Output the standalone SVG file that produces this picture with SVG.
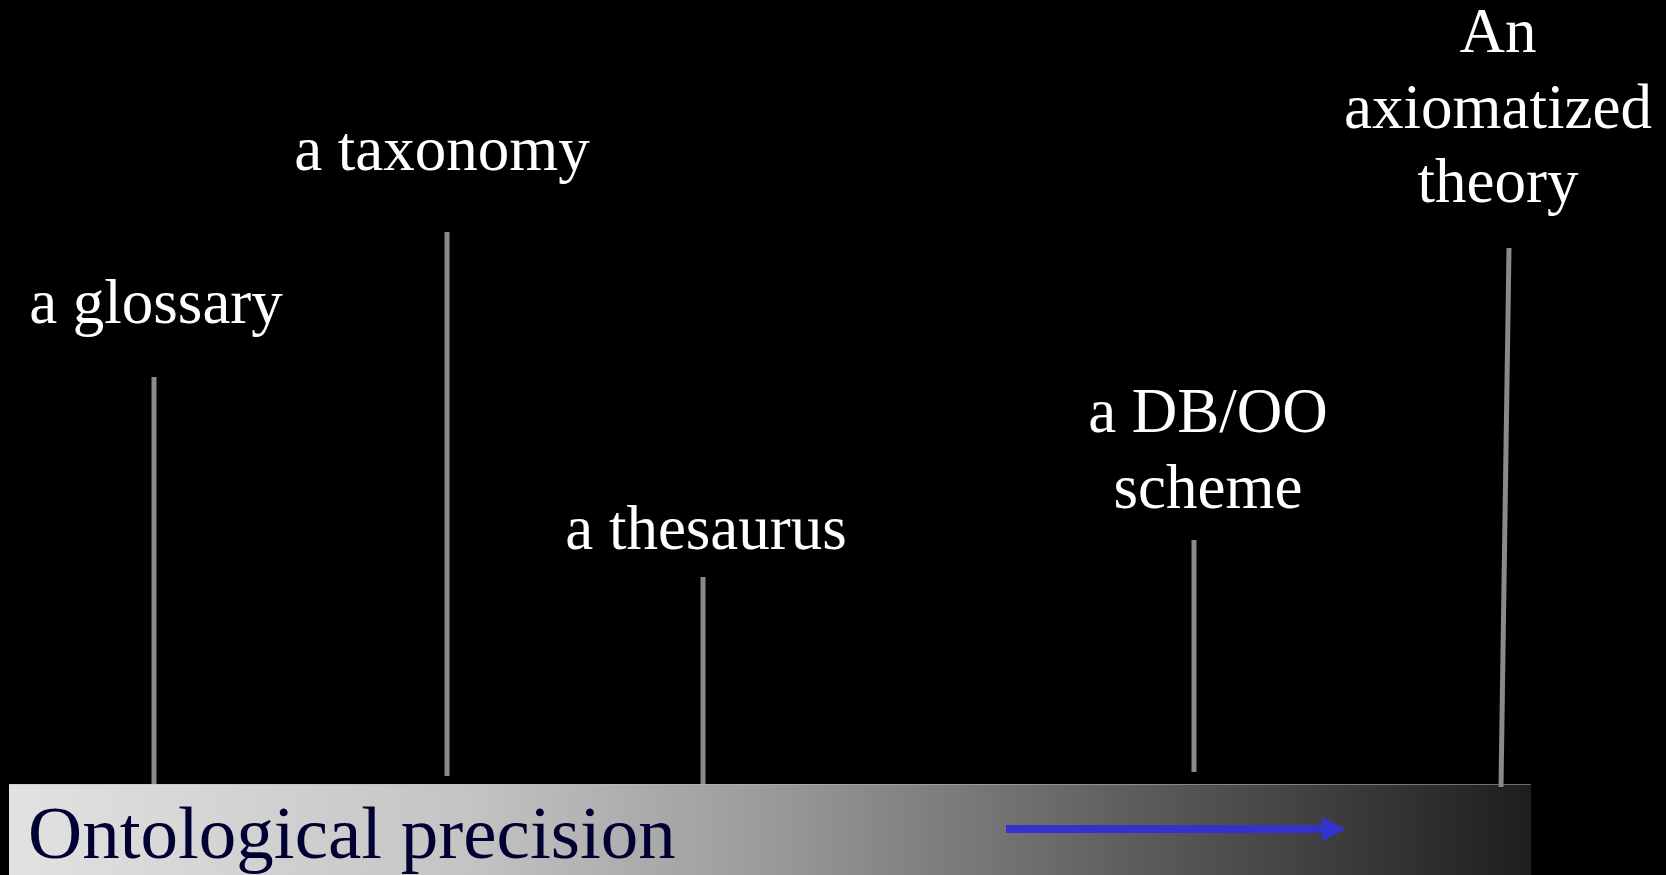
<svg xmlns="http://www.w3.org/2000/svg" width="1666" height="875" viewBox="0 0 1666 875">
<defs>
<linearGradient id="barGrad" x1="0" y1="0" x2="1" y2="0">
<stop offset="0" stop-color="#e2e2e2"/>
<stop offset="0.3" stop-color="#c4c4c4"/>
<stop offset="0.5" stop-color="#9a9a9a"/>
<stop offset="0.75" stop-color="#5a5a5a"/>
<stop offset="1" stop-color="#1e1e1e"/>
</linearGradient>
<style>
.lbl{font-family:"Liberation Serif","Times New Roman",serif;font-size:63px;fill:#ffffff;text-anchor:middle}
.tick{stroke:#8a8a8a;stroke-width:5;fill:none}
.title{font-family:"Liberation Serif","Times New Roman",serif;font-size:75px;fill:#000033}
</style>
</defs>
<rect x="0" y="0" width="1666" height="875" fill="#000000"/>
<g id="bar">
<rect x="9" y="784" width="1522" height="91" fill="url(#barGrad)"/>
<line x1="9" y1="784.5" x2="1531" y2="784.5" stroke="#bdbdbd" stroke-width="1" stroke-opacity="0.5"/>
<text class="title" x="28" y="858">Ontological precision</text>
<path d="M1006,825 H1322 V817 L1346,829 L1322,841 V833 H1006 Z" fill="#3333cc"/>
</g>
<g id="connectors">
<line class="tick" x1="154" y1="377" x2="154" y2="784"/>
<line class="tick" x1="447" y1="232" x2="447" y2="776"/>
<line class="tick" x1="703" y1="577" x2="703" y2="784"/>
<line class="tick" x1="1194" y1="540" x2="1194" y2="772"/>
<line class="tick" x1="1509" y1="248" x2="1501" y2="787"/>
</g>
<g id="glossary"><text class="lbl" x="156" y="323">a glossary</text></g>
<g id="taxonomy"><text class="lbl" x="442" y="170">a taxonomy</text></g>
<g id="thesaurus"><text class="lbl" x="706" y="549">a thesaurus</text></g>
<g id="dboo"><text class="lbl" x="1208" y="432">a DB/OO</text><text class="lbl" x="1208" y="508">scheme</text></g>
<g id="axiomatized"><text class="lbl" x="1498" y="52">An</text><text class="lbl" x="1498" y="128">axiomatized</text><text class="lbl" x="1498" y="202">theory</text></g>
</svg>
